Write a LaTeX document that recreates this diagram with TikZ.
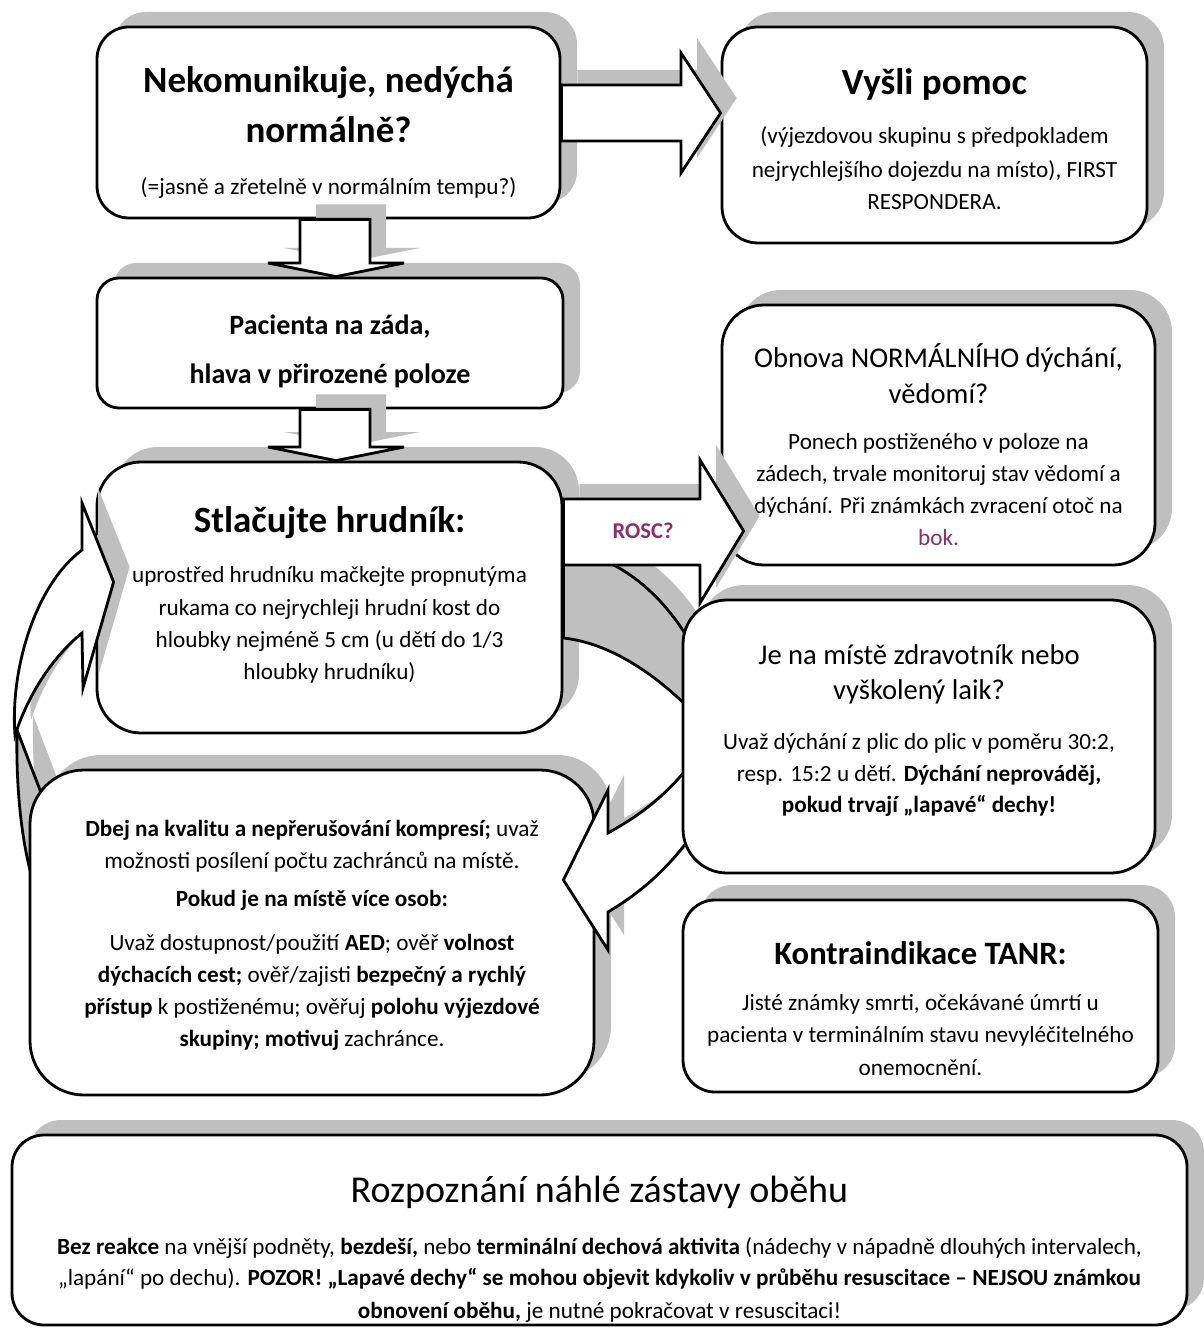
\documentclass[tikz,border=0pt]{standalone}
\usepackage{fontspec}
\setmainfont{Carlito}
\usetikzlibrary{shadows,calc}

\definecolor{shadowgray}{RGB}{191,191,191}
\definecolor{roscpurple}{RGB}{140,45,110}

\newcommand{\titlebold}{\fontsize{18.5}{16}\selectfont\bfseries}
\newcommand{\titleplain}{\fontsize{19}{16}\selectfont}
\newcommand{\headplain}{\fontsize{14.3}{16}\selectfont}
\newcommand{\headbold}{\fontsize{16.3}{16}\selectfont\bfseries}
\newcommand{\subbold}{\fontsize{14}{16}\selectfont\bfseries}

\begin{document}
\setlength{\lineskiplimit}{-50pt}
\begin{tikzpicture}[x=0.5pt, y=-0.5pt,
    box/.style={draw, line width=1.4pt, fill=white, align=center, inner sep=0pt,
      font=\fontsize{11.6}{16}\selectfont,
      drop shadow={shadow xshift=8.5pt, shadow yshift=7.5pt, opacity=1, fill=shadowgray}},
    blockarrow/.style={draw, line width=1.4pt, fill=white, line join=miter,
      drop shadow={shadow xshift=8pt, shadow yshift=7.5pt, opacity=1, fill=shadowgray}},
    backband/.style={draw, line width=1.4pt, fill=shadowgray,
      drop shadow={shadow xshift=8pt, shadow yshift=7.5pt, opacity=1, fill=shadowgray}}]

  \path[use as bounding box] (0,0) rectangle (1203,1336);

  \node[box, minimum width=231.5pt, minimum height=95.5pt, rounded corners=16pt] (a) at (328.5,122.5)
    {\mbox{}\\[4.95pt]{\titlebold Nekomunikuje, nedýchá}\\[9pt]{\titlebold normálně?}\\[10.05pt](=jasně a zřetelně v normálním tempu?)\\[-16pt]\mbox{}};
  \node[box, minimum width=212.5pt, minimum height=108pt, rounded corners=18pt] (b) at (934.5,135)
    {\mbox{}\\[0.95pt]{\titlebold Vyšli pomoc}\\[8.55pt](výjezdovou skupinu s předpokladem\\[1pt]nejrychlejšího dojezdu na místo), FIRST\\RESPONDERA.\\[-16pt]\mbox{}};
  \node[box, minimum width=233pt, minimum height=65pt, rounded corners=11pt] (c) at (330,343)
    {\mbox{}\\[0.3pt]{\subbold Pacienta na záda,}\\[8.5pt]{\subbold hlava v přirozené poloze}\\[-16pt]\mbox{}};
  \node[box, minimum width=216.5pt, minimum height=130pt, rounded corners=21pt] (d) at (938.5,435)
    {\mbox{}\\[5.25pt]{\headplain Obnova NORMÁLNÍHO dýchání,}\\[2pt]{\headplain vědomí?}\\[7.25pt]Ponech postiženého v poloze na\\zádech, trvale monitoruj stav vědomí a\\dýchání. Při známkách zvracení otoč na\\{\color{roscpurple}bok.}\\[-16pt]\mbox{}};
  \node[box, minimum width=232.5pt, minimum height=135.5pt, rounded corners=22pt] (e) at (329.5,597.5)
    {\mbox{}\\[-7.55pt]{\titlebold Stlačujte hrudník:}\\[9.05pt]uprostřed hrudníku mačkejte propnutýma\\[0.5pt]rukama co nejrychleji hrudní kost do\\hloubky nejméně 5 cm (u dětí do 1/3\\hloubky hrudníku)\\[-16pt]\mbox{}};

  % zpetna sipka vlevo
  \draw[backband] (17,730) .. controls (16,780) and (20,830) .. (30,870) -- (60,870) -- (40,790) -- cycle;
  \draw[blockarrow] (82,550) -- (82,503) -- ($(e.west)+(18,-15.5)$) -- (83,688) -- (82,633)
    .. controls (55,655) and (30,690) .. (15,735) .. controls (10,670) and (35,585) .. (82,550) -- cycle;

  \node[box, minimum width=282pt, minimum height=162.5pt, rounded corners=27pt] (g) at (312,932.5)
    {\mbox{}\\[-7.5pt]\textbf{Dbej na kvalitu a nepřerušování kompresí;} uvaž\\možnosti posílení počtu zachránců na místě.\\[3pt]\textbf{Pokud je na místě více osob:}\\[6pt]Uvaž dostupnost/použití \textbf{AED}; ověř \textbf{volnost}\\\textbf{dýchacích cest;} ověř/zajisti \textbf{bezpečný a rychlý}\\\textbf{přístup} k postiženému; ověřuj \textbf{polohu výjezdové}\\\textbf{skupiny;} \textbf{motivuj} zachránce.\\[-16pt]\mbox{}};
  \node[box, minimum width=237.5pt, minimum height=96pt, rounded corners=16pt] (h) at (920.5,996)
    {\mbox{}\\[7.85pt]{\headbold Kontraindikace TANR:}\\[7.15pt]Jisté známky smrti, očekávané úmrtí u\\pacienta v terminálním stavu nevyléčitelného\\[0.5pt]onemocnění.\\[-16pt]\mbox{}};
  \node[box, minimum width=587.5pt, minimum height=95pt, rounded corners=16pt] (i) at (599.5,1230)
    {\mbox{}\\[14.55pt]{\titleplain Rozpoznání náhlé zástavy oběhu}\\[9.95pt]\textbf{Bez reakce} na vnější podněty, \textbf{bezdeší,} nebo \textbf{terminální dechová aktivita} (nádechy v nápadně dlouhých intervalech,\\[-0.5pt]„lapání“ po dechu). \textbf{POZOR! „Lapavé dechy“ se mohou objevit kdykoliv v průběhu resuscitace – NEJSOU známkou}\\[0.5pt]\textbf{obnovení oběhu,} je nutné pokračovat v resuscitaci!\\[-16pt]\mbox{}};

  % zpetna sipka vpravo
  \draw[backband] (e.east |- 0,550) -- (590,555) .. controls (630,568) and (670,600) .. (700,660) -- (705,725)
    .. controls (660,675) and (610,643) .. (e.east |- 0,638) -- cycle;
  \draw[blockarrow] (608,833) -- (608,790) -- ($(g.east)+(-32,-52.5)$) -- (608,950) -- (608,912)
    .. controls (640,893) and (675,865) .. (705,815) -- (705,745) .. controls (670,795) and (640,815) .. (608,833) -- cycle;

  \node[box, minimum width=236pt, minimum height=136.5pt, rounded corners=22pt] (f) at (919,736.5)
    {\mbox{}\\[-14.25pt]{\headplain Je na místě zdravotník nebo}\\[1.5pt]{\headplain vyškolený laik?}\\[8.75pt]Uvaž dýchání z plic do plic v poměru 30:2,\\resp. 15:2 u dětí. \textbf{Dýchání neprováděj,}\\[-0.5pt]\textbf{pokud trvají „lapavé“ dechy!}\\[-16pt]\mbox{}};

  \draw[blockarrow] (e.east |- 0,499) -- (700,499) -- (700,460) -- ($(d.west |- 0,531)+(23,0)$) -- (700,603) -- (700,565) -- (e.east |- 0,565) -- cycle;
  \node[font=\fontsize{11.3}{12}\selectfont\bfseries, text=roscpurple] (rosc) at (643,531) {ROSC?};

  \draw[blockarrow] (300,0 |- a.south) -- (300,263) -- (268,263) -- (336,0 |- c.north) -- (404,263) -- (370,263) -- (370,0 |- a.south) -- cycle;
  \draw[blockarrow] (300,0 |- c.south) -- (300,447) -- (268,447) -- (336,0 |- e.north) -- (404,447) -- (370,447) -- (370,0 |- c.south) -- cycle;
  \draw[blockarrow] (a.east |- 0,85) -- (681,85) -- (681,53) -- (b.west |- 0,113) -- (681,173) -- (681,141) -- (a.east |- 0,141) -- cycle;

\end{tikzpicture}
\end{document}
